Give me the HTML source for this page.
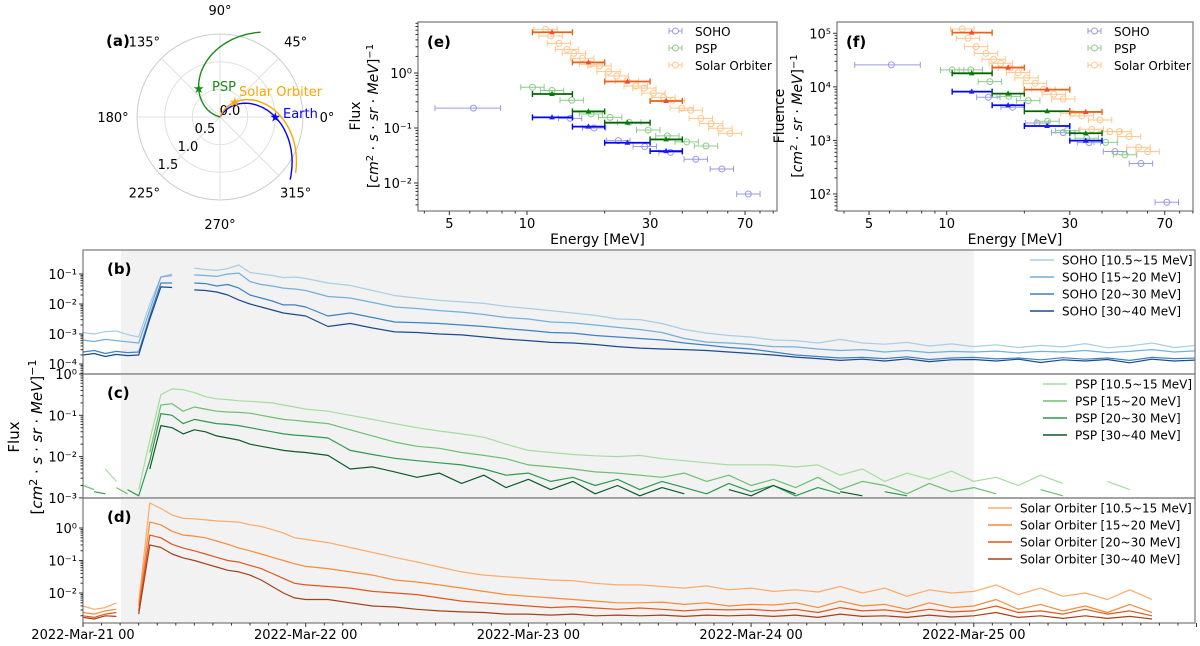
<!DOCTYPE html>
<html><head><meta charset="utf-8"><style>
html,body{margin:0;padding:0;background:#fff;}
svg{display:block;font-family:"DejaVu Sans","Liberation Sans",sans-serif;}
</style></head><body>
<svg id="fig" width="1200" height="646" viewBox="0 0 1200 646" xmlns="http://www.w3.org/2000/svg"></svg>
<script>
// ---------- Panel (a) data ----------
const scNames = ["Earth","Solar Orbiter","PSP"];
const scR = [1.0, 0.38, 0.64];
const scAngle = [0, 45, 127];
const scWindK = [1.04, 1.077, 1.03];
const scColors = ["#0000ff","#ffa500","#1a8a1a"];

// ---------- Panel (e) data ----------
const sohoE = [6.2,14.7,18.2,22.6,28.6,36.0,45.1,56.9,72.1];
const sohoFlux = [0.23,0.15,0.10,0.059,0.046,0.036,0.027,0.018,0.0063];
const pspE = [10.5,12.5,14.9,17.7,21.0,24.9,29.5,35.0,41.6,49.4];
const pspFlux = [0.55,0.48,0.32,0.18,0.156,0.127,0.092,0.072,0.056,0.047];
const soloE = [11.8,12.35,13.3,14.3,15.2,16.4,17.7,19.1,20.7,22.3,24.4,26.4,28.5,30.9,33.8,36.8,39.8,43.1,47.2,51.7,56.2,61.2];
const soloFlux = [6.2,4.7,3.46,2.69,2.28,1.85,1.44,1.34,1.06,0.88,0.72,0.58,0.53,0.43,0.36,0.32,0.23,0.21,0.15,0.12,0.099,0.080];
const binLo = [10.5,15,20,30];
const binHi = [15,20,30,40];
const binMid = [12.5,17.3,24.5,34.6];
const soloBinFlux = [5.5,1.56,0.70,0.31];
const pspBinFlux = [0.415,0.20,0.125,0.062];
const sohoBinFlux = [0.156,0.106,0.054,0.038];

// ---------- Panel (f) data ----------
const sohoFE = [6.1,14.5,18.0,22.4,28.3,35.6,44.9,56.6,71.3];
const sohoFluence = [25700,6400,4170,2120,1400,910,620,370,70];
const pspFE = [10.5,12.4,14.7,17.4,20.7,24.6,29.3,34.9,41.3,49.1];
const pspFluence = [20700,20700,12500,6660,5530,2280,1520,1100,920,540];
const soloFE = [11.5,12.1,13.0,14.2,15.2,16.2,17.6,18.9,20.4,22.0,23.7,26.0,28.3,30.7,33.4,36.5,39.3,42.9,46.7,50.9,55.4,60.1];
const soloFluence = [120000,80700,56400,42300,32700,27600,22500,18400,14700,11700,9000,7270,5940,3210,2870,1620,2410,1460,1460,1180,745,618];
const soloBinFluence = [103000,22900,8880,3400];
const pspBinFluence = [17900,7480,3500,1360];
const sohoBinFluence = [8150,4530,1860,990];

// ---------- Time series data (days since 2022-Mar-21 00, log10 flux) ----------
const T = [0,0.05,0.1,0.15,0.2,0.25,0.3,0.35,0.4,0.45,0.5,0.55,0.6,0.65,0.7,0.75,0.8,0.85,0.9,0.95,1.0,
 1.1,1.2,1.3,1.4,1.5,1.6,1.7,1.8,1.9,2.0,2.1,2.2,2.3,2.4,2.5,2.6,2.7,2.8,2.9,3.0,
 3.1,3.2,3.3,3.4,3.5,3.6,3.7,3.8,3.9,4.0,4.1,4.2,4.3,4.4,4.5,4.6,4.7,4.8,4.9,5.0];
const soho1 = [-2.95,-3.0,-2.92,-2.9,-3.02,-3.1,-2.0,-1.1,-1.0,null,-0.8,-0.85,-0.88,-0.82,-0.7,-0.95,-1.0,-1.05,-1.12,-1.1,-1.15,
 -1.3,-1.38,-1.55,-1.72,-1.8,-1.88,-1.93,-1.98,-2.08,-2.15,
 -2.22,-2.3,-2.38,-2.5,-2.52,-2.65,-2.85,-2.97,-3.05,-3.1,
 -3.2,-3.22,-3.3,-3.18,-3.3,-3.34,-3.28,-3.4,-3.33,-3.42,
 -3.36,-3.45,-3.38,-3.43,-3.32,-3.46,-3.4,-3.3,-3.45,-3.38];
const soho2 = [-3.2,-3.25,-3.18,-3.22,-3.26,-3.3,-2.2,-1.1,-1.05,null,-1.03,-1.05,-1.08,-1.0,-0.97,-1.25,-1.35,-1.4,-1.47,-1.5,-1.55,
 -1.75,-1.8,-1.95,-2.1,-2.15,-2.22,-2.27,-2.35,-2.45,-2.5,
 -2.6,-2.63,-2.7,-2.78,-2.85,-2.95,-3.15,-3.27,-3.3,-3.35,
 -3.42,-3.43,-3.5,-3.55,-3.52,-3.6,-3.55,-3.62,-3.58,-3.6,
 -3.57,-3.63,-3.58,-3.6,-3.55,-3.62,-3.58,-3.52,-3.6,-3.56];
const soho3 = [-3.6,-3.55,-3.65,-3.58,-3.62,-3.6,-2.4,-1.3,-1.3,null,-1.3,-1.32,-1.4,-1.35,-1.47,-1.7,-1.8,-1.9,-2.03,-2.03,-2.1,
 -2.4,-2.3,-2.45,-2.6,-2.62,-2.65,-2.7,-2.75,-2.82,-2.88,
 -2.95,-2.97,-3.05,-3.1,-3.15,-3.2,-3.3,-3.37,-3.45,-3.5,
 -3.6,-3.7,-3.75,-3.8,-3.78,-3.82,-3.76,-3.85,-3.8,-3.78,
 -3.83,-3.8,-3.86,-3.79,-3.84,-3.8,-3.88,-3.78,-3.82,-3.8];
const soho4 = [-3.7,-3.65,-3.75,-3.68,-3.72,-3.7,-2.5,-1.43,-1.45,null,-1.53,-1.55,-1.6,-1.7,-1.87,-2.0,-2.1,-2.2,-2.3,-2.35,-2.4,
 -2.75,-2.65,-2.8,-2.93,-2.95,-3.0,-3.03,-3.1,-3.17,-3.22,
 -3.28,-3.3,-3.35,-3.42,-3.47,-3.5,-3.52,-3.55,-3.6,-3.65,
 -3.7,-3.77,-3.82,-3.88,-3.84,-3.9,-3.83,-3.92,-3.86,-3.85,
 -3.9,-3.84,-3.95,-3.86,-3.9,-3.85,-3.96,-3.84,-3.9,-3.87];
const psp1 = [-2.4,null,-2.3,-2.6,null,-2.8,-1.6,-0.5,-0.36,-0.38,-0.45,-0.55,-0.6,-0.62,-0.65,-0.66,-0.68,-0.7,-0.75,-0.8,-0.85,
 -0.9,-1.0,-1.1,-1.2,-1.3,-1.38,-1.45,-1.53,-1.7,-1.85,
 -1.9,-1.95,-1.98,-2.0,-1.97,-2.05,-2.1,-2.15,-2.2,-2.2,
 -2.2,-2.25,-2.2,-2.45,-2.3,-2.6,-2.4,-2.55,-2.35,-2.6,
 -2.5,-2.7,-2.45,-2.65,null,-2.6,-2.8,null,-2.7,null];
const psp2 = [-2.7,-2.8,null,-2.75,-2.9,null,-1.9,-0.75,-0.72,-0.9,-0.8,-0.85,-0.9,-0.92,-0.93,-0.95,-1.0,-1.05,-1.1,-1.12,-1.15,
 -1.2,-1.35,-1.5,-1.65,-1.75,-1.8,-1.9,-1.97,-2.05,-2.2,
 -2.25,-2.3,-2.37,-2.4,-2.45,-2.5,-2.4,-2.6,-2.45,-2.7,
 -2.55,-2.75,-2.5,-2.8,-2.6,-2.7,-2.9,-2.65,-2.85,-2.75,
 -2.9,null,-2.8,-2.95,null,-2.85,null,-2.9,null,null];
const psp3 = [null,-2.85,-2.9,null,-2.8,-2.95,-2.1,-0.96,-1.0,-1.2,-1.1,-1.15,-1.2,-1.22,-1.25,-1.3,-1.35,-1.4,-1.45,-1.48,-1.5,
 -1.55,-1.85,-1.95,-2.04,-2.1,-2.15,-2.2,-2.3,-2.45,-2.4,
 -2.6,-2.5,-2.7,-2.55,-2.8,-2.6,-2.75,-2.9,-2.65,-2.85,
 -2.7,-2.95,-2.75,-2.9,null,-2.85,-2.95,null,-2.9,null,
 null,-2.95,null,-2.9,null,null,-2.95,null,null,null];
const psp4 = [null,-2.9,null,null,-2.85,null,-2.3,-1.25,-1.3,-1.45,-1.35,-1.4,-1.5,-1.55,-1.6,-1.7,-1.75,-1.8,-1.85,-1.88,-1.9,
 -1.97,-2.3,-2.25,-2.37,-2.5,-2.4,-2.65,-2.45,-2.75,-2.55,
 -2.8,-2.6,-2.9,-2.7,-2.95,-2.75,-2.9,null,-2.8,-2.95,
 -2.7,-2.9,null,-2.85,-2.95,null,-2.9,null,null,-2.95,
 null,-2.9,null,null,-2.95,null,-2.9,null,null,null];
const solo1 = [-2.4,-2.5,-2.45,-2.3,null,-2.3,0.77,0.6,0.4,0.3,0.28,0.25,0.22,0.2,0.18,0.1,0.05,-0.05,-0.15,-0.3,-0.35,
 -0.45,-0.6,-0.75,-0.9,-1.05,-1.2,-1.35,-1.45,-1.5,-1.55,
 -1.6,-1.62,-1.7,-1.75,-1.75,-1.8,-1.85,-1.78,-1.9,-1.85,
 -1.95,-1.9,-1.97,-1.8,-2.0,-1.85,-2.1,-1.9,-2.0,-1.95,
 -1.75,-2.05,-1.85,-2.1,-2.0,-2.2,-1.9,-2.2,null,-1.95];
const solo2 = [-2.6,-2.65,-2.55,-2.5,null,-2.4,0.18,0.1,-0.1,-0.22,-0.25,-0.3,-0.4,-0.5,-0.62,-0.7,-0.8,-0.9,-1.0,-1.1,-1.18,
 -1.25,-1.35,-1.45,-1.6,-1.66,-1.75,-1.85,-1.95,-2.05,-2.1,
 -2.15,-2.2,-2.25,-2.3,-2.3,-2.28,-2.35,-2.3,-2.4,-2.35,
 -2.37,-2.3,-2.45,-2.25,-2.4,-2.35,-2.5,-2.3,-2.45,-2.4,
 -2.2,-2.5,-2.35,-2.55,-2.4,-2.6,-2.35,-2.6,null,-2.45];
const solo3 = [-2.7,-2.75,-2.65,-2.6,null,-2.55,-0.22,-0.3,-0.5,-0.62,-0.7,-0.8,-0.9,-1.0,-1.05,-1.15,-1.25,-1.4,-1.55,-1.7,-1.75,
 -1.8,-1.85,-1.95,-2.0,-2.05,-2.15,-2.25,-2.3,-2.35,-2.4,
 -2.45,-2.42,-2.46,-2.5,-2.46,-2.5,-2.55,-2.5,-2.52,-2.5,
 -2.55,-2.5,-2.6,-2.45,-2.55,-2.52,-2.6,-2.5,-2.58,-2.55,
 -2.4,-2.6,-2.55,-2.65,-2.5,-2.65,-2.55,-2.7,null,-2.6];
const solo4 = [-2.75,-2.8,-2.7,-2.72,null,-2.65,-0.52,-0.6,-0.8,-0.92,-1.0,-1.1,-1.2,-1.3,-1.35,-1.45,-1.6,-1.8,-2.0,-2.15,-2.2,
 -2.2,-2.3,-2.4,-2.43,-2.5,-2.55,-2.58,-2.6,-2.65,-2.65,
 -2.68,-2.65,-2.7,-2.68,-2.7,-2.68,-2.72,-2.68,-2.7,-2.68,
 -2.72,-2.68,-2.75,-2.65,-2.72,-2.7,-2.75,-2.68,-2.74,-2.7,
 -2.6,-2.75,-2.7,-2.78,-2.7,-2.78,-2.72,-2.8,null,-2.75];
const channelLabels = ["[10.5~15 MeV]","[15~20 MeV]","[20~30 MeV]","[30~40 MeV]"];
const dateLabels = ["2022-Mar-21 00","2022-Mar-22 00","2022-Mar-23 00","2022-Mar-24 00","2022-Mar-25 00"];
const dateTicks = [0,1,2,3,4];
const shadeStart = 0.17, shadeEnd = 4.0;

// ---------- helpers ----------
const NS = "http://www.w3.org/2000/svg";
const svg = document.getElementById("fig");
function mk(tag, attrs, parent) {
  const el = document.createElementNS(NS, tag);
  for (const k in attrs) el.setAttribute(k, attrs[k]);
  (parent || svg).appendChild(el);
  return el;
}
function txt(x, y, s, attrs, parent) {
  const el = mk("text", Object.assign({x: x, y: y, "font-size": 13, fill: "#000"}, attrs || {}), parent);
  el.textContent = s;
  return el;
}
const L = Math.log10;

// ---------- Panel (a): polar ----------
const pc = {x: 220, y: 117}, pS = 55.3;
function polarXY(r, deg) { const a = deg * Math.PI / 180; return [pc.x + r * pS * Math.cos(a), pc.y - r * pS * Math.sin(a)]; }
const gA = mk("g", {});


[0.5, 1.0, 1.5].forEach(r => {
  const c = mk("circle", {cx: pc.x, cy: pc.y, r: r * pS, fill: "none", stroke: r === 1.5 ? "#cccccc" : "#e0e0e0", "stroke-width": 1}, gA);
  
  
});
[0, 45, 90, 135, 180, 225, 270, 315].forEach(d => {
  const p = polarXY(1.5, d);
  const ln = mk("line", {x1: pc.x, y1: pc.y, x2: p[0], y2: p[1], stroke: "#e0e0e0", "stroke-width": 1}, gA);
  
  
  const q = polarXY(107 / pS, d);
  const t = txt(q[0], q[1] + 5, d + "°", {"text-anchor": "middle", "font-size": 13}, gA);
  
  
});
[["0.0", 230, 115], ["0.5", 205, 133], ["1.0", 188, 151], ["1.5", 168, 169]].forEach(a => {
  const t = txt(a[1], a[2], a[0], {"text-anchor": "middle", "font-size": 13}, gA);
  
  
});
for (let i = 0; i < scNames.length; i++) {
  let pts = [];
  for (let r = 0; r <= 1.72; r += 0.02) {
    const deg = scAngle[i] + scWindK[i] * (scR[i] - r) * 180 / Math.PI;
    pts.push(polarXY(r, deg).map(v => v.toFixed(1)).join(","));
  }
  const pl = mk("polyline", {points: pts.join(" "), fill: "none", stroke: scColors[i], "stroke-width": 1.4}, gA);
  
  
  const sp = polarXY(scR[i], scAngle[i]);
  const st = txt(sp[0], sp[1] + 4.5, "★", {"text-anchor": "middle", "font-size": 13, fill: scColors[i]}, gA);
  
  
}
let lb = txt(212, 91, "PSP", {fill: "#1a8a1a", "font-size": 13}, gA);


lb = txt(239, 96, "Solar Orbiter", {fill: "#ffa500", "font-size": 13}, gA);


lb = txt(283, 118, "Earth", {fill: "#0000ff", "font-size": 13}, gA);


lb = txt(106, 46, "(a)", {"font-weight": "bold", "font-size": 15}, gA);



// ---------- Panels (e) & (f) ----------
function spectrumPanel(cfg) {
  const g = mk("g", {});
  
  
  const X = E => cfg.x10 + 258 * L(E / 10);
  const Y = v => cfg.yRef + cfg.dec * (cfg.refLog - L(v));
  const box = mk("rect", {x: cfg.x0, y: 22, width: cfg.x1 - cfg.x0, height: 189, fill: "none", stroke: "#777", "stroke-width": 1.2}, g);
  
  
  [4,6,7,8,9,20,40,50,60,80,90].forEach(E => {
    const x = X(E); if (x < cfg.x0 || x > cfg.x1) return;
    const tk = mk("line", {x1: x, y1: 211, x2: x, y2: 213.5, stroke: "#333"}, g);
    
    
  });
  [5,10,30,70].forEach(E => {
    const x = X(E);
    const tk = mk("line", {x1: x, y1: 211, x2: x, y2: 215, stroke: "#333"}, g);
    
    
    const t = txt(x, 228, String(E), {"text-anchor": "middle", "font-size": 13}, g);
    
    
  });
  const xl = txt((cfg.x0 + cfg.x1) / 2, 244, "Energy [MeV]", {"text-anchor": "middle", "font-size": 14}, g);
  
  
  for (let d = cfg.decLo; d <= cfg.decHi; d++) {
    for (let m = 1; m < 10; m++) {
      const v = m * Math.pow(10, d); const y = Y(v);
      if (y < 22 || y > 211) continue;
      const tk = mk("line", {x1: cfg.x0, y1: y, x2: cfg.x0 - (m === 1 ? 4 : 2.5), y2: y, stroke: "#333"}, g);
      
      
      if (m === 1) {
        const t = txt(cfg.x0 - 6, y + 5, "10" + cfg.sup(d), {"text-anchor": "end", "font-size": 13}, g);
        
        
      }
    }
  }
  const yl1 = txt(0, 0, cfg.ytitle, {"text-anchor": "middle", "font-size": 14, transform: "translate(" + cfg.ylx + ",116) rotate(-90)"}, g);
  
  
  const yl2 = mk("text", {x: 0, y: 0, "text-anchor": "middle", "font-size": 14, transform: "translate(" + (cfg.ylx + 18) + ",116) rotate(-90)"}, g);
  yl2.innerHTML = '[<tspan font-style="italic">cm</tspan><tspan dy="-5" font-size="10">2</tspan><tspan dy="5"> · </tspan>' + cfg.unitMid + '<tspan font-style="italic">sr</tspan> · <tspan font-style="italic">MeV</tspan>]<tspan dy="-5" font-size="10">−1</tspan>';
  
  
  const pl = txt(cfg.x0 + 9, 47, cfg.label, {"font-weight": "bold", "font-size": 15}, g);
  
  

  function errPoint(E, lo, hi, v, color, bold, nm) {
    const y = Y(v);
    const sg = mk("g", {}, g);
    
    
    mk("line", {x1: X(lo), y1: y, x2: X(hi), y2: y, stroke: color, "stroke-width": bold ? 1.8 : 1}, sg);
    mk("line", {x1: X(lo), y1: y - 3, x2: X(lo), y2: y + 3, stroke: color, "stroke-width": bold ? 1.4 : 1}, sg);
    mk("line", {x1: X(hi), y1: y - 3, x2: X(hi), y2: y + 3, stroke: color, "stroke-width": bold ? 1.4 : 1}, sg);
    if (bold) {
      const x = X(E);
      mk("polygon", {points: [x, y - 3.2, x - 2.8, y + 2, x + 2.8, y + 2].join(","), fill: cfg.triColor[color] || color}, sg);
    } else {
      mk("circle", {cx: X(E), cy: y, r: 3, fill: "none", stroke: color, "stroke-width": 1}, sg);
    }
  }
  const light = [["#9a9ae6", cfg.sE, cfg.sV], ["#8ccc8c", cfg.pE, cfg.pV], ["#ffc58a", cfg.oE, cfg.oV]];
  light.forEach((s, k) => {
    for (let i = 0; i < s[1].length; i++) {
      let lo = s[1][i] / 1.11, hi = s[1][i] * 1.11;
      if (k === 0 && i === 0) { lo = 4.4; hi = 7.9; }
      errPoint(s[1][i], lo, hi, s[2][i], s[0], false, 'light-point');
    }
  });
  [["#0000ff", cfg.sB], ["#006400", cfg.pB], ["#e8631a", cfg.oB]].forEach(s => {
    for (let i = 0; i < binLo.length; i++) errPoint(binMid[i], binLo[i], binHi[i], s[1][i], s[0], true, 'channel-point');
  });
  [["SOHO", "#9a9ae6"], ["PSP", "#8ccc8c"], ["Solar Orbiter", "#ffc58a"]].forEach((e, i) => {
    const y = 31 + i * 17;
    const lg = mk("g", {}, g);
    
    
    const lx = cfg.legX;
    mk("line", {x1: lx, y1: y, x2: lx + 13, y2: y, stroke: e[1]}, lg);
    mk("line", {x1: lx, y1: y - 3, x2: lx, y2: y + 3, stroke: e[1]}, lg);
    mk("line", {x1: lx + 13, y1: y - 3, x2: lx + 13, y2: y + 3, stroke: e[1]}, lg);
    mk("circle", {cx: lx + 6.5, cy: y, r: 3, fill: "#fff", stroke: e[1]}, lg);
    txt(lx + 26, y + 5, e[0], {"font-size": 12}, lg);
  });
}
const supMap = {"-": "⁻", "0": "⁰", "1": "¹", "2": "²", "3": "³", "4": "⁴", "5": "⁵"};
const sup = d => String(d).split("").map(c => supMap[c]).join("");
spectrumPanel({name: "panel-e-flux-spectrum", x0: 418, x1: 777, x10: 527, yRef: 73, dec: 55, refLog: 0, decLo: -3, decHi: 0,
  sup: sup, ytitle: "Flux", ylx: 360, unitMid: '<tspan font-style="italic">s</tspan> · ', label: "(e)", legX: 669,
  sE: sohoE, sV: sohoFlux, pE: pspE, pV: pspFlux, oE: soloE, oV: soloFlux,
  sB: sohoBinFlux, pB: pspBinFlux, oB: soloBinFlux, triColor: {"#e8631a": "#ff4433", "#006400": "#008000", "#0000ff": "#1a1aff"}});
spectrumPanel({name: "panel-f-fluence-spectrum", x0: 837, x1: 1193, x10: 946.7, yRef: 33.3, dec: 53.56, refLog: 5, decLo: 1, decHi: 5,
  sup: sup, ytitle: "Fluence", ylx: 784, unitMid: '', label: "(f)", legX: 1088,
  sE: sohoFE, sV: sohoFluence, pE: pspFE, pV: pspFluence, oE: soloFE, oV: soloFluence,
  sB: sohoBinFluence, pB: pspBinFluence, oB: soloBinFluence, triColor: {"#e8631a": "#ff4433", "#006400": "#008000", "#0000ff": "#1a1aff"}});

// ---------- Time-series panels ----------
const tx = t => 83 + t * 222.7;
const XL = 83, XR = 1195;
const panels = [
  {name: "panel-b-soho", y0: 250, y1: 374, Y: v => 274 + (-1 - v) * 30, ticks: [-1,-2,-3,-4], series: [soho1, soho2, soho3, soho4],
   colors: ["#a9cde6", "#72b0da", "#3d82c2", "#1c4a8c"], prefix: "SOHO ", legX: 1030, legY: 260, label: "(b)"},
  {name: "panel-c-psp", y0: 374, y1: 498, Y: v => 374 - v * 41.3, ticks: [0,-1,-2,-3], series: [psp1, psp2, psp3, psp4],
   colors: ["#a6dca0", "#6cc071", "#2e9a4e", "#0d5a2a"], prefix: "PSP ", legX: 1043, legY: 384, label: "(c)"},
  {name: "panel-d-solar-orbiter", y0: 498, y1: 623, Y: v => 528 - v * 32.5, ticks: [0,-1,-2], series: [solo1, solo2, solo3, solo4],
   colors: ["#fdaa68", "#f98a3a", "#e2561b", "#a2421a"], prefix: "Solar Orbiter ", legX: 988, legY: 508, label: "(d)"}
];
panels.forEach((p, pi) => {
  const g = mk("g", {});
  
  
  const cp = mk("clipPath", {id: "clip" + pi}, g);
  mk("rect", {x: XL, y: p.y0, width: XR - XL, height: p.y1 - p.y0}, cp);
  const sh = mk("rect", {x: tx(shadeStart), y: p.y0, width: tx(shadeEnd) - tx(shadeStart), height: p.y1 - p.y0, fill: "#f2f2f2"}, g);
  
  
  const lines = mk("g", {"clip-path": "url(#clip" + pi + ")"}, g);
  p.series.forEach((s, si) => {
    let d = "", pen = false;
    for (let i = 0; i < T.length; i++) {
      if (s[i] === null) { pen = false; continue; }
      d += (pen ? "L" : "M") + tx(T[i]).toFixed(1) + "," + p.Y(s[i]).toFixed(1);
      pen = true;
    }
    const path = mk("path", {d: d, fill: "none", stroke: p.colors[si], "stroke-width": 1.2, "stroke-linejoin": "round"}, lines);
    
    
  });
  const fr = mk("rect", {x: XL, y: p.y0, width: XR - XL, height: p.y1 - p.y0, fill: "none", stroke: "#777", "stroke-width": 1.2}, g);
  
  
  p.ticks.forEach(tk => {
    const y = p.Y(tk);
    const l = mk("line", {x1: XL, y1: y, x2: XL - 4, y2: y, stroke: "#333"}, g);
    
    
    const t = txt(XL - 6, y + 5, "10" + sup(tk), {"text-anchor": "end", "font-size": 13}, g);
    
    
    for (let m = 2; m < 10; m++) {
      const ym = p.Y(tk - 1 + L(m));
      if (ym < p.y0 || ym > p.y1) continue;
      const lm = mk("line", {x1: XL, y1: ym, x2: XL - 2.5, y2: ym, stroke: "#333"}, g);
      
      
    }
  });
  const pl = txt(107, p.y0 + 24, p.label, {"font-weight": "bold", "font-size": 15}, g);
  
  
  channelLabels.forEach((c, ci) => {
    const y = p.legY + ci * 17;
    const lg = mk("g", {}, g);
    
    
    mk("line", {x1: p.legX, y1: y, x2: p.legX + 24, y2: y, stroke: p.colors[ci], "stroke-width": 1.5}, lg);
    txt(p.legX + 32, y + 4.5, p.prefix + c, {"font-size": 12}, lg);
  });
});
for (let h = 0; h <= 120; h += 2) {
  const x = tx(h / 24);
  const major = h % 24 === 0;
  const l = mk("line", {x1: x, y1: 623, x2: x, y2: major ? 627 : 625.5, stroke: "#333"});
  
  
}
dateTicks.forEach((d, i) => {
  const t = txt(tx(d), 639, dateLabels[i], {"text-anchor": "middle", "font-size": 13});
  
  
});
const by1 = txt(0, 0, "Flux", {"text-anchor": "middle", "font-size": 15, transform: "translate(19,437) rotate(-90)"});


const by2 = mk("text", {x: 0, y: 0, "text-anchor": "middle", "font-size": 15, transform: "translate(42,437) rotate(-90)"});
by2.innerHTML = '[<tspan font-style="italic">cm</tspan><tspan dy="-5" font-size="11">2</tspan><tspan dy="5"> · </tspan><tspan font-style="italic">s</tspan> · <tspan font-style="italic">sr</tspan> · <tspan font-style="italic">MeV</tspan>]<tspan dy="-6" font-size="11">−1</tspan>';


</script>
</body></html>
